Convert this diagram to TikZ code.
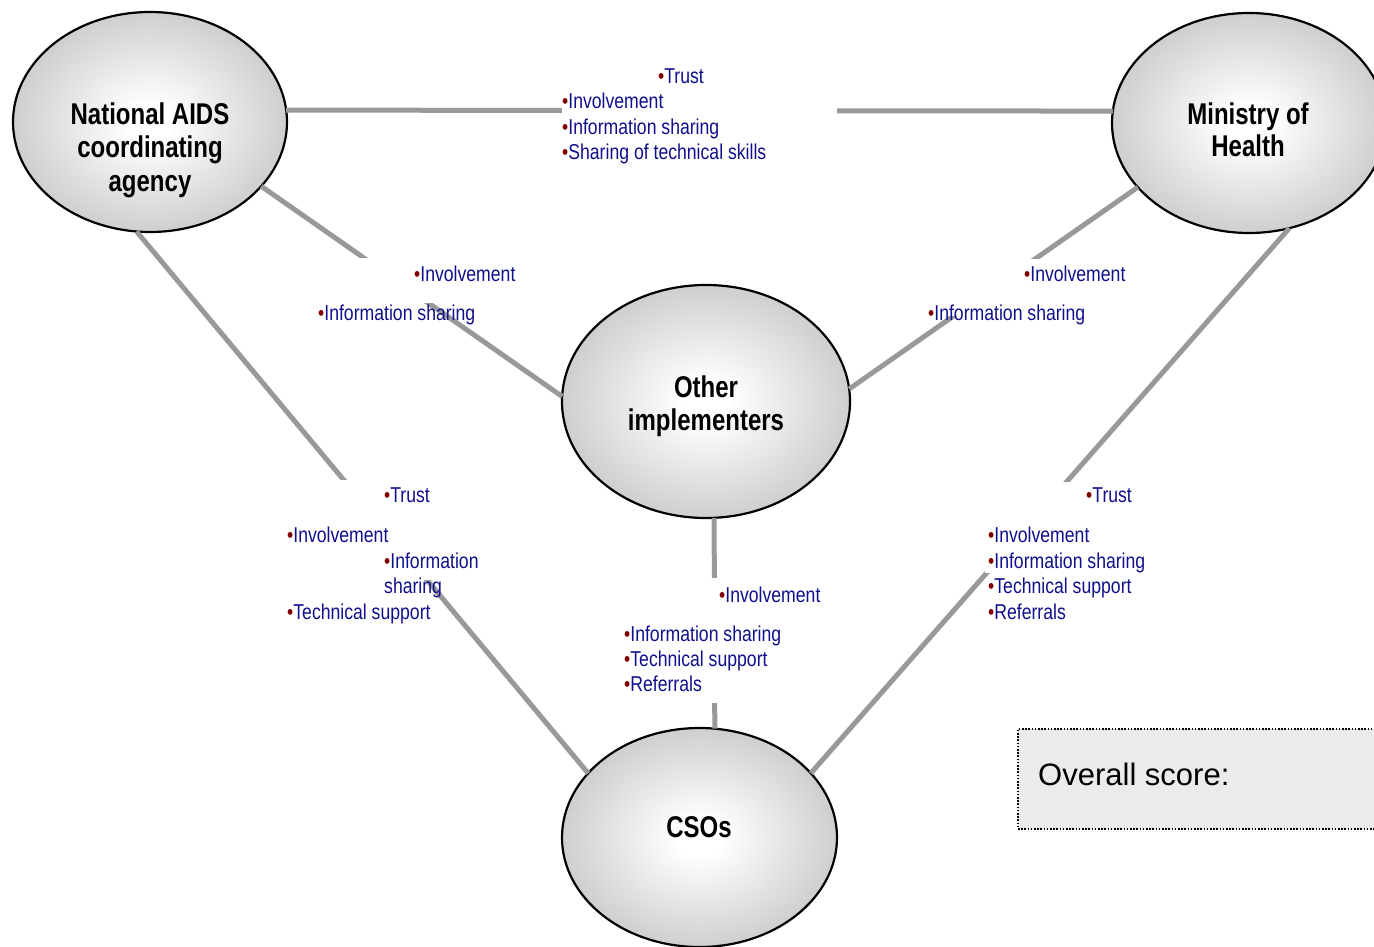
\documentclass[tikz,border=0pt]{standalone}
\usepackage{fontspec}
\setmainfont{Liberation Sans}
\newfontfamily\narrowfont[FakeStretch=0.82]{Liberation Sans}
\newfontfamily\labfont[FakeStretch=0.8]{Liberation Sans}
\usetikzlibrary{shapes.geometric}
\definecolor{linegray}{RGB}{153,153,153}
\definecolor{txtblue}{RGB}{16,16,140}
\definecolor{bulred}{RGB}{128,0,0}
\definecolor{scorefill}{RGB}{235,235,235}
\pgfdeclareradialshading{ellshade}{\pgfpoint{0bp}{0bp}}{color(0bp)=(white); color(4bp)=(white); color(25bp)=(black!19); color(50bp)=(black!19)}
\newcommand{\bl}{{\color{bulred}•}}
\tikzset{
  ent/.style={ellipse, draw=black, line width=2.2pt, shade, shading=ellshade, inner sep=0pt, outer sep=0pt},
  lab/.style={anchor=base, inner sep=0pt, font=\labfont\bfseries\fontsize{30}{34}\selectfont, text=black},
  bul/.style={anchor=base west, inner sep=0pt, font=\narrowfont\fontsize{21.5}{25.5}\selectfont, text=txtblue},
  conn/.style={draw=linegray, line width=5pt},
  mask/.style={fill=white, draw=none},
  scorebox/.style={draw=black, line width=2pt, dash pattern=on 1.6pt off 1.6pt, fill=scorefill, anchor=north west, inner sep=0pt}
}
\begin{document}
\begin{tikzpicture}[x=1pt,y=-1pt]
\useasboundingbox (0,0) rectangle (1374,947);
\clip (0,0) rectangle (1374,947);
\fill[white] (0,0) rectangle (1374,947);

% entities
\node[ent, minimum width=274pt, minimum height=220pt] (nac) at (150,122) {};
\node[ent, minimum width=274pt, minimum height=220pt] (moh) at (1249,123) {};
\node[ent, minimum width=288pt, minimum height=233pt] (oth) at (706,401.5) {};
\node[ent, minimum width=275pt, minimum height=219pt] (cso) at (699.5,837.5) {};

% connectors
\draw[conn] (nac.5) -- (moh.175);
\draw[conn] (nac.-30.6) -- (oth.178);
\draw[conn] (oth.5.8) -- (moh.210);
\draw[conn] (nac.263.4) -- (cso.150.2);
\draw[conn] (moh.291.3) -- (cso.30);
\draw[conn] (oth.-86) -- (cso.82.5);

% white label backgrounds
\fill[mask] (562,60) rectangle (837,170);
\fill[mask] (310,258) rectangle (525,303);
\fill[mask] (925,259) rectangle (1135,316);
\fill[mask] (287,480) rectangle (500,580);
\fill[mask] (985,482) rectangle (1150,573);
\fill[mask] (622,578) rectangle (868,703);

% entity labels
\node[lab] (nac1) at (150,125) {National AIDS};
\node[lab] (nac2) at (150,158) {coordinating};
\node[lab] (nac3) at (150,191) {agency};
\node[lab] (moh1) at (1248,125) {Ministry of};
\node[lab] (moh2) at (1248,157) {Health};
\node[lab] (oth1) at (706,397) {Other};
\node[lab] (oth2) at (706,430) {implementers};
\node[lab] (cso1) at (699,837) {CSOs};

% NAC - MoH
\node[bul] (t1a) at (658,84) {\bl Trust};
\node[bul] (t1b) at (562,109) {\bl Involvement};
\node[bul] (t1c) at (562,135) {\bl Information sharing};
\node[bul] (t1d) at (562,160) {\bl Sharing of technical skills};

% NAC - Other
\node[bul] (t2a) at (414,281) {\bl Involvement};
\node[bul] (t2b) at (318,320) {\bl Information sharing};

% Other - MoH
\node[bul] (t3a) at (1024,281) {\bl Involvement};
\node[bul] (t3b) at (928,320) {\bl Information sharing};

% NAC - CSOs
\node[bul] (t4a) at (384,502) {\bl Trust};
\node[bul] (t4b) at (287,542) {\bl Involvement};
\node[bul] (t4c) at (384,568) {\bl Information};
\node[bul] (t4d) at (384,593) {sharing};
\node[bul] (t4e) at (287,619) {\bl Technical support};

% Other - CSOs
\node[bul] (t5a) at (719,602) {\bl Involvement};
\node[bul] (t5b) at (624,641) {\bl Information sharing};
\node[bul] (t5c) at (624,666) {\bl Technical support};
\node[bul] (t5d) at (624,691.5) {\bl Referrals};

% MoH - CSOs
\node[bul] (t6a) at (1086,502) {\bl Trust};
\node[bul] (t6b) at (988,542) {\bl Involvement};
\node[bul] (t6c) at (988,568) {\bl Information sharing};
\node[bul] (t6d) at (988,593) {\bl Technical support};
\node[bul] (t6e) at (988,619) {\bl Referrals};

% overall score
\node[scorebox, minimum width=380pt, minimum height=100pt] (score) at (1017,728) {};
\node[anchor=base west, inner sep=0pt, font=\fontsize{31}{37}\selectfont] (scoretext) at (1038,785) {Overall score:};
\end{tikzpicture}
\end{document}
